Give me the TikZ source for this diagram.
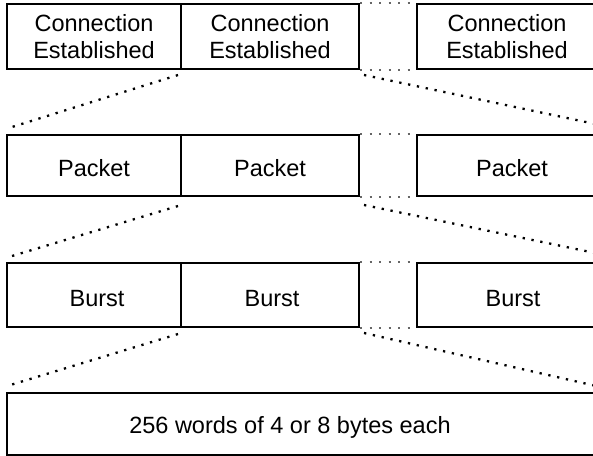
\documentclass[tikz,border=0pt]{standalone}
\usepackage{fontspec}
\setmainfont{Liberation Sans}
\usetikzlibrary{calc}
\begin{document}
\begin{tikzpicture}[x=1pt,y=-1pt,
  cell/.style={draw=black, line width=2pt, inner sep=0pt, align=center,
    font=\fontsize{23.5}{26.5}\selectfont},
  lbl/.style={inner sep=0pt, align=center, font=\fontsize{23.5}{26.5}\selectfont},
  gapdots/.style={draw=black!60, line width=2.2pt, dash pattern=on 2.2pt off 7.3pt},
  fan/.style={draw=black, line width=2.3pt, dash pattern=on 2.3pt off 6.7pt}
]
\useasboundingbox (0,0) rectangle (593,455);
\clip (0,0) rectangle (593,455);

% Row 1: connections
\node[cell, minimum width=174pt, minimum height=65pt] (c1) at (94,36.5) {Connection\\Established};
\node[cell, minimum width=178pt, minimum height=65pt] (c2) at (270,36.5) {Connection\\Established};
\node[cell, minimum width=180pt, minimum height=65pt] (c3) at (507,36.5) {Connection\\Established};

% Row 2: packets
\node[cell, minimum width=174pt, minimum height=61pt] (p1) at (94,165.5) {};
\node[cell, minimum width=178pt, minimum height=61pt] (p2) at (270,165.5) {};
\node[cell, minimum width=180pt, minimum height=61pt] (p3) at (507,165.5) {};
\node[lbl] (pt1) at (94,168) {Packet};
\node[lbl] (pt2) at (270,168) {Packet};
\node[lbl] (pt3) at (512,168) {Packet};

% Row 3: bursts
\node[cell, minimum width=174pt, minimum height=64pt] (b1) at (94,295) {};
\node[cell, minimum width=178pt, minimum height=64pt] (b2) at (270,295) {};
\node[cell, minimum width=180pt, minimum height=64pt] (b3) at (507,295) {};
\node[lbl] (bt1) at (97,299) {Burst};
\node[lbl] (bt2) at (272,299) {Burst};
\node[lbl] (bt3) at (513,299) {Burst};

% Row 4: words
\node[cell, minimum width=600pt, minimum height=62pt] (w) at (307,423.5) {};
\node[lbl] (wt) at (290,427) {256 words of 4 or 8 bytes each};

% elided boxes between the second and last column
\foreach \r in {c,p,b}{
  \draw[gapdots] (\r2.north east) -- (\r3.north west);
  \draw[gapdots] (\r2.south east) -- (\r3.south west);
}

% expansion of one item into the next level
\draw[fan] ($(c1.south east)+(-4,5)$) -- ($(p1.north west)+(6,-7)$);
\draw[fan] ($(c2.south east)+(4,5)$) -- ($(p3.north east)+(2,-9)$);
\draw[fan] ($(p1.south east)+(-4,9)$) -- ($(b1.north west)+(6,-6)$);
\draw[fan] ($(p2.south east)+(4,8)$) -- ($(b3.north east)+(2,-8)$);
\draw[fan] ($(b1.south east)+(-4,6)$) -- ($(w.north west)+(6,-7)$);
\draw[fan] ($(b2.south east)+(4,5)$) -- ($(w.north east)+(-14,-6)$);
\end{tikzpicture}
\end{document}
